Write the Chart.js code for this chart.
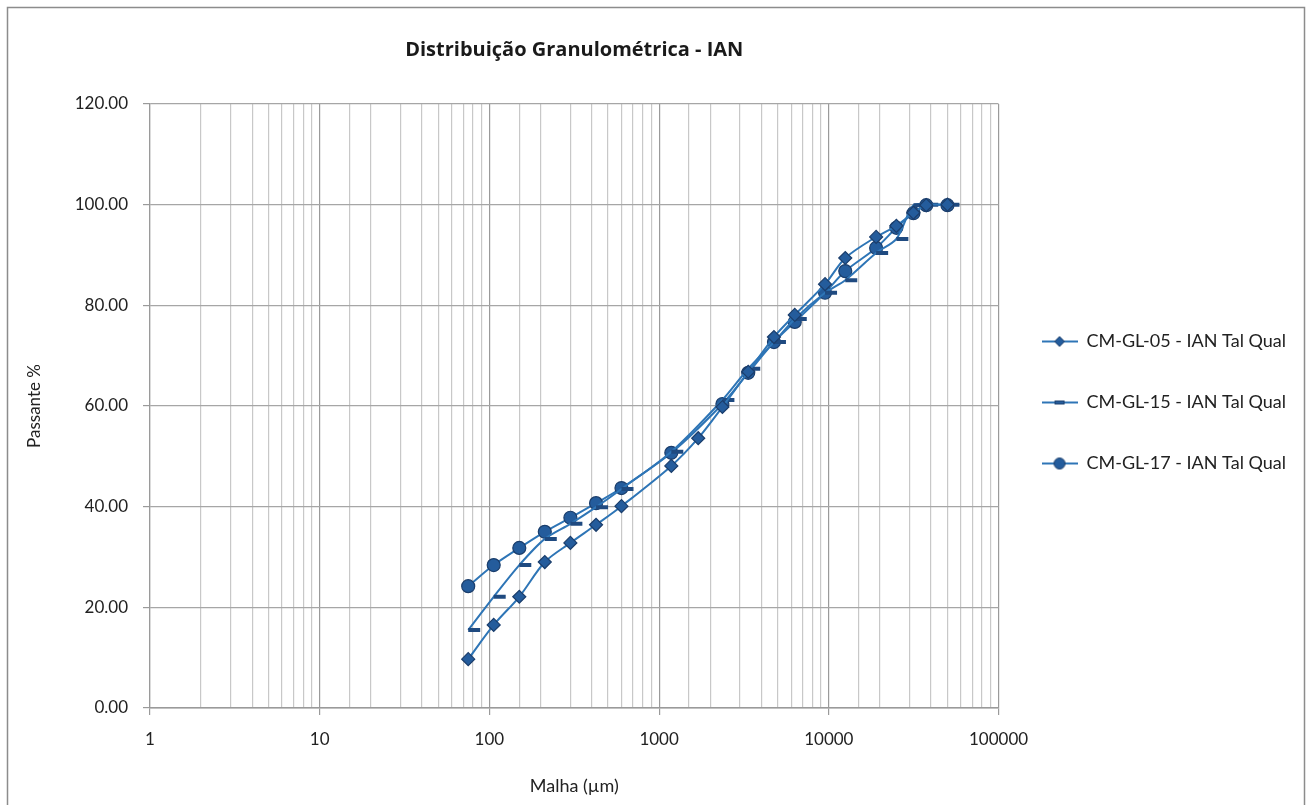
<!DOCTYPE html>
<html>
<head>
<meta charset="utf-8">
<script src="https://cdn.jsdelivr.net/npm/chart.js@4.4.1/dist/chart.umd.min.js"></script>
<style>
  html, body { margin: 0; padding: 0; background: #fff; }
  #wrap { position: absolute; left: 0; top: 0; width: 1309px; height: 805px; }
</style>
</head>
<body>
<div id="wrap"><canvas id="chart"></canvas></div>
<script>
// sieve openings (µm)
const sieve05 = [75, 106, 150, 212, 300, 425, 600, 1180, 1700, 2360, 3350, 4750, 6300, 9500, 12500, 19000, 25000, 31500, 37500, 50000];
const sieve15 = [75, 106, 150, 212, 300, 425, 600, 1180, 2360, 3350, 4750, 6300, 9500, 12500, 19000, 25000, 31500, 37500, 50000];
const sieve17 = [75, 106, 150, 212, 300, 425, 600, 1180, 2360, 3350, 4750, 6300, 9500, 12500, 19000, 25000, 31500, 37500, 50000];

// passante %
const gl05 = [9.7, 16.5, 22.1, 29.0, 32.8, 36.4, 40.1, 48.1, 53.6, 59.8, 66.8, 73.7, 78.1, 84.2, 89.4, 93.6, 95.8, 98.4, 99.9, 100.0];
const gl15 = [15.5, 22.1, 28.4, 33.6, 36.6, 39.9, 43.5, 50.9, 61.2, 67.4, 72.7, 77.3, 82.5, 85.0, 90.4, 93.2, 99.9, 100.0, 100.0];
const gl17 = [24.2, 28.4, 31.8, 35.0, 37.8, 40.7, 43.7, 50.7, 60.4, 66.6, 72.7, 76.7, 82.5, 86.8, 91.4, 95.4, 98.3, 99.9, 99.9];

const seriesNames = ['CM-GL-05 - IAN Tal Qual', 'CM-GL-15 - IAN Tal Qual', 'CM-GL-17 - IAN Tal Qual'];

const lineColor = '#2E75B6';
const markFill = '#245C9C';
const markEdge = '#1B3E6C';
const FONT = 'Lato, "Open Sans", sans-serif';

function pairs(xs, ys) {
  return xs.map((x, i) => ({ x: x, y: ys[i] }));
}

// little legend sample: line with marker in the middle
function legendIcon(kind) {
  const c = document.createElement('canvas');
  c.width = 36; c.height = 16;
  const g = c.getContext('2d');
  g.strokeStyle = lineColor;
  g.lineWidth = 2;
  g.beginPath(); g.moveTo(0, 8); g.lineTo(36, 8); g.stroke();
  g.fillStyle = markFill;
  g.strokeStyle = markEdge;
  g.lineWidth = 1;
  if (kind === 'diamond') {
    g.beginPath(); g.moveTo(18, 3); g.lineTo(23, 8); g.lineTo(18, 13); g.lineTo(13, 8); g.closePath();
    g.fill(); g.stroke();
  } else if (kind === 'dash') {
    g.fillRect(13, 6, 10, 4); g.strokeRect(13.5, 6.5, 9, 3);
  } else {
    g.beginPath(); g.arc(18, 8, 5.5, 0, Math.PI * 2); g.fill(); g.stroke();
  }
  return c;
}

const icons = [legendIcon('diamond'), legendIcon('dash'), legendIcon('circle')];

const frame = {
  id: 'frame',
  beforeDraw(chart) {
    const ctx = chart.ctx;
    ctx.save();
    ctx.strokeStyle = '#8c8c8c';
    ctx.lineWidth = 1.5;
    ctx.strokeRect(7.5, 7.5, 1297, 820);
    ctx.restore();
  }
};

const isDecade = v => Math.abs(Math.log10(v) - Math.round(Math.log10(v))) < 1e-9;

new Chart(document.getElementById('chart'), {
  type: 'line',
  data: {
    datasets: [
      {
        label: seriesNames[0],
        data: pairs(sieve05, gl05),
        pointStyle: 'rectRot',
        pointRadius: 6.5,
        backgroundColor: markFill,
        pointBorderColor: markEdge
      },
      {
        label: seriesNames[1],
        data: pairs(sieve15, gl15),
        pointStyle: 'dash',
        pointRadius: 12,
        pointBorderWidth: 4,
        backgroundColor: markFill,
        pointBorderColor: '#1F4A80'
      },
      {
        label: seriesNames[2],
        data: pairs(sieve17, gl17),
        pointStyle: 'circle',
        pointRadius: 6.5,
        backgroundColor: markFill,
        pointBorderColor: markEdge
      }
    ].map(d => Object.assign({
      borderColor: lineColor,
      borderWidth: 2,
      tension: 0.3,
      pointBorderWidth: 1.2,
      pointBackgroundColor: markFill,
      fill: false
    }, d))
  },
  options: {
    responsive: true,
    maintainAspectRatio: false,
    animation: false,
    layout: { padding: { left: 0, right: 13, top: 0, bottom: 0 } },
    plugins: {
      title: {
        display: true,
        fullSize: false,
        text: 'Distribuição Granulométrica - IAN',
        color: '#1a1a1a',
        font: { family: '"Open Sans", Lato, sans-serif', size: 20, weight: 'bold', lineHeight: 1.2 },
        padding: { top: 38, bottom: 42 }
      },
      legend: {
        position: 'right',
        labels: {
          color: '#222',
          font: { family: FONT, size: 18 },
          usePointStyle: true,
          pointStyleWidth: 36,
          boxHeight: 16,
          padding: 43,
          generateLabels(chart) {
            return chart.data.datasets.map((ds, i) => ({
              text: ds.label,
              pointStyle: icons[i],
              fillStyle: markFill,
              strokeStyle: lineColor,
              lineWidth: 0,
              fontColor: '#222',
              datasetIndex: i,
              hidden: false
            }));
          }
        }
      },
      tooltip: { enabled: false }
    },
    scales: {
      x: {
        type: 'logarithmic',
        min: 1,
        max: 100000,
        afterFit(s) { s.height = 97; },
        grid: {
          color: c => isDecade(c.tick.value) ? '#9a9a9a' : '#c8c8c8',
          tickColor: c => isDecade(c.tick.value) ? '#9a9a9a' : 'rgba(0,0,0,0)',
          tickLength: 7,
          lineWidth: 1.2
        },
        border: { color: '#9a9a9a', width: 1.5 },
        ticks: {
          autoSkip: false,
          maxRotation: 0,
          padding: 14,
          color: '#222',
          font: { family: FONT, size: 17 },
          callback: v => isDecade(v) ? String(Math.round(v)) : ''
        },
        title: {
          display: true,
          text: 'Malha (µm)',
          color: '#222',
          font: { family: FONT, size: 18 },
          padding: { top: 0, bottom: 8 }
        }
      },
      y: {
        min: 0,
        max: 120,
        afterFit(s) { s.width = 150; },
        grid: { color: '#a6a6a6', tickColor: '#9a9a9a', tickLength: 7, lineWidth: 1.2 },
        border: { color: '#9a9a9a', width: 1.2 },
        ticks: {
          stepSize: 20,
          padding: 15,
          color: '#222',
          font: { family: FONT, size: 17 },
          callback: v => v.toFixed(2)
        },
        title: {
          display: true,
          text: 'Passante %',
          color: '#222',
          font: { family: FONT, size: 17 },
          padding: { top: 24, bottom: 0 }
        }
      }
    }
  },
  plugins: [frame]
});
</script>
</body>
</html>
